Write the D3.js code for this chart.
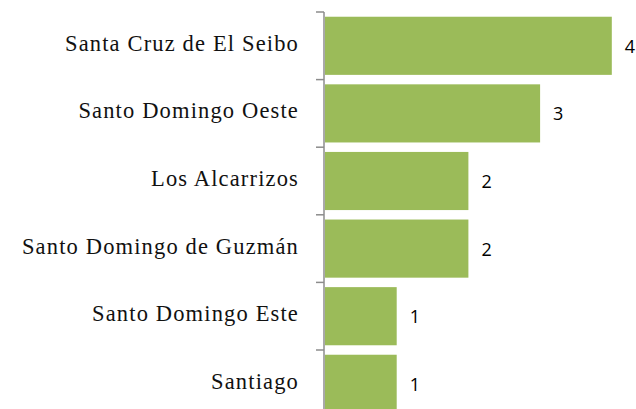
<!DOCTYPE html>
<html>
<head>
<meta charset="utf-8">
<script src="https://cdn.jsdelivr.net/npm/d3@7"></script>
<style>
  body { margin: 0; background: #fff; }
  svg { display: block; }
</style>
</head>
<body>
<svg id="chart" width="636" height="409"></svg>
<script>
const categories = ["Santa Cruz de El Seibo", "Santo Domingo Oeste", "Los Alcarrizos",
    "Santo Domingo de Guzmán", "Santo Domingo Este", "Santiago"];
const values = [4, 3, 2, 2, 1, 1];

const svg = d3.select("#chart");
const axisX = 324;
const plotTop = 12;
const step = 67.6;

const xScale = d3.scaleLinear()
    .domain([0, 4])
    .range([axisX + 1, axisX + 1 + 4 * 71.7]);
const yScale = d3.scaleBand()
    .domain(categories)
    .range([plotTop, plotTop + step * categories.length])
    .paddingInner(0.14)
    .paddingOuter(0.07);

const data = categories.map((c, i) => ({ name: c, value: values[i] }));

svg.selectAll(".bar")
    .data(data)
    .join("rect")
    .attr("class", "bar")
    .attr("x", xScale(0))
    .attr("y", d => yScale(d.name))
    .attr("width", d => xScale(d.value) - xScale(0))
    .attr("height", yScale.bandwidth())
    .attr("fill", "#9bbb59");

// axis line and ticks at band boundaries
svg.append("line")
    .attr("x1", axisX).attr("x2", axisX)
    .attr("y1", plotTop).attr("y2", plotTop + step * categories.length)
    .attr("stroke", "#8c8c8c")
    .attr("stroke-width", 1.5);

svg.selectAll(".tick")
    .data(d3.range(categories.length + 1))
    .join("line")
    .attr("class", "tick")
    .attr("x1", axisX - 8).attr("x2", axisX)
    .attr("y1", i => plotTop + i * step).attr("y2", i => plotTop + i * step)
    .attr("stroke", "#8c8c8c")
    .attr("stroke-width", 1.5);

svg.selectAll(".cat-label")
    .data(data)
    .join("text")
    .attr("class", "cat-label")
    .attr("x", 299)
    .attr("y", d => yScale(d.name) + yScale.bandwidth() / 2 + 5)
    .attr("text-anchor", "end")
    .attr("font-family", "Liberation Serif, serif")
    .attr("font-size", 22.5)
    .attr("letter-spacing", 1.15)
    .attr("fill", "#111")
    .text(d => d.name);

svg.selectAll(".val-label")
    .data(data)
    .join("text")
    .attr("class", "val-label")
    .attr("x", d => xScale(d.value) + 13)
    .attr("y", d => yScale(d.name) + yScale.bandwidth() / 2 + 7)
    .attr("font-family", "Open Sans, sans-serif")
    .attr("font-size", 18)
    .attr("fill", "#000")
    .text(d => d.value);
</script>
</body>
</html>
